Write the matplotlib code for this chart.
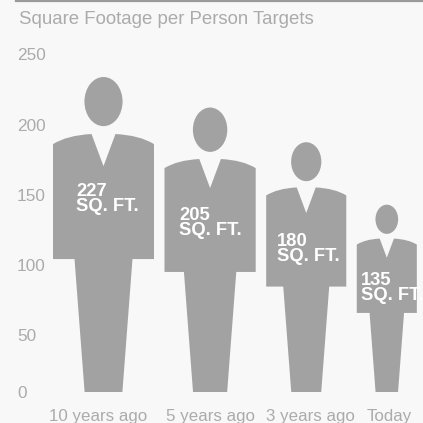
import matplotlib
matplotlib.use("Agg")
import matplotlib.pyplot as plt
from matplotlib.path import Path
from matplotlib.patches import PathPatch, Ellipse

title = "Square Footage per Person Targets"
categories = ["10 years ago", "5 years ago", "3 years ago", "Today"]
values = [227, 205, 180, 135]
y_ticks = [0, 50, 100, 150, 200, 250]

BG = "#f8f8f8"
FIG = "#a2a2a2"
TXT = "#ababab"
PX = 1.352            # pixels per data unit
Y0 = 392              # pixel row of zero
HEIGHT_K = 1.0264     # figure height / value
WIDTH_K = 0.3206      # torso width / figure height
GAP = 10.5 / PX
START = 53 / PX

plt.rcParams["font.family"] = ["Liberation Sans", "DejaVu Sans"]
fig = plt.figure(figsize=(4.23, 4.23), dpi=100, facecolor=BG)
ax = fig.add_axes([0, 0, 1, 1], facecolor=BG)
ax.set_xlim(0, 423 / PX)
ax.set_ylim((Y0 - 423) / PX, Y0 / PX)
for s in ax.spines.values():
    s.set_visible(False)


def body_path(cx, h):
    w = WIDTH_K * h / 2
    verts = [
        (cx - 0.06 * h, 0), (cx + 0.06 * h, 0), (cx + 0.092 * h, 0.422 * h),
        (cx + w, 0.422 * h), (cx + w, 0.787 * h),
        (cx + 0.72 * w, 0.815 * h), (cx + 0.038 * h, 0.819 * h),
        (cx, 0.717 * h), (cx - 0.038 * h, 0.819 * h),
        (cx - 0.72 * w, 0.815 * h), (cx - w, 0.787 * h),
        (cx - w, 0.422 * h), (cx - 0.092 * h, 0.422 * h),
        (cx - 0.06 * h, 0),
    ]
    codes = [Path.MOVETO, Path.LINETO, Path.LINETO, Path.LINETO, Path.LINETO,
             Path.CURVE3, Path.CURVE3, Path.LINETO, Path.LINETO,
             Path.CURVE3, Path.CURVE3, Path.LINETO, Path.LINETO, Path.CLOSEPOLY]
    return Path(verts, codes)


left = START
centers = []
for v in values:
    h = v * HEIGHT_K
    w = WIDTH_K * h
    cx = left + w / 2
    centers.append(cx)
    ax.add_patch(PathPatch(body_path(cx, h), fc=FIG, ec="none"))
    ax.add_patch(Ellipse((cx, 0.922 * h), 0.121 * h, 0.156 * h, fc=FIG, ec="none"))
    left += w + GAP

# label anchors: offset from the torso's left edge (px) and pixel row of the text centre
label_dx = [23, 15, 11, 4]
label_row = [199, 223, 249, 288]
for cx, v, dx, row in zip(centers, values, label_dx, label_row):
    h = v * HEIGHT_K
    x = cx - WIDTH_K * h / 2 + dx / PX
    ax.text(x, (Y0 - row) / PX, f"{v}\nSQ. FT.", color="white", fontsize=13.2,
            fontweight="bold", ha="left", va="center", linespacing=0.85)

# the reference's axis labels sit at these pixel rows (its scale is not regular at 0)
tick_rows = [392, 335, 265, 195, 125, 54]
ax.set_yticks([(Y0 - r) / PX for r in tick_rows])
ax.set_yticklabels([str(t) for t in y_ticks], ha="left")
ax.tick_params(axis="y", length=0, pad=-12.2, labelsize=12.4, labelcolor=TXT)

xlabel_px = [98, 210, 310, 389]
ax.set_xticks([p / PX for p in xlabel_px])
ax.set_xticklabels(categories)
ax.tick_params(axis="x", length=0, pad=-10, labelsize=12.2, labelcolor=TXT)

fig.text(19 / 423, 1 - 19 / 423, title, color=TXT, fontsize=13.4, ha="left", va="center")
fig.add_artist(plt.Line2D([16 / 423, 1], [1 - 1.5 / 423] * 2, color="#9a9a9a", lw=1.6))

fig.savefig("out.png", dpi=100, facecolor=BG)
